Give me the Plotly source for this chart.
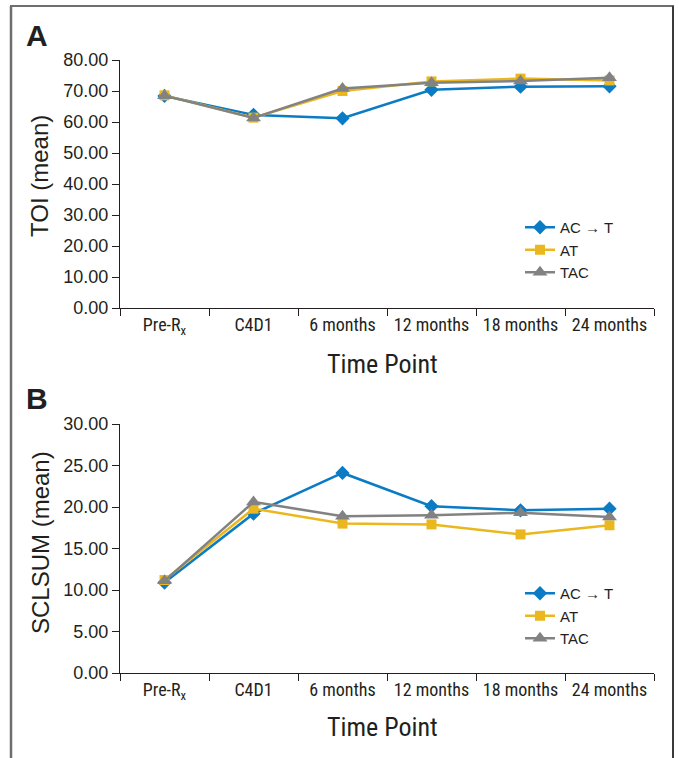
import plotly.graph_objects as go

time_points = ["Pre-R<sub>x</sub>", "C4D1", "6 months", "12 months", "18 months", "24 months"]
series_names = ["AC → T", "AT", "TAC"]

toi_act = [68.4, 62.3, 61.2, 70.4, 71.4, 71.5]
toi_at = [68.6, 61.4, 70.0, 73.1, 74.0, 73.4]
toi_tac = [68.5, 61.3, 70.8, 72.7, 73.2, 74.3]

scl_act = [10.9, 19.2, 24.1, 20.1, 19.6, 19.8]
scl_at = [11.2, 19.8, 18.0, 17.9, 16.7, 17.8]
scl_tac = [11.1, 20.6, 18.9, 19.0, 19.3, 18.8]

colors = ["#0a7bc4", "#eab81e", "#828282"]
symbols = ["diamond", "square", "triangle-up"]
msizes = [11, 10, 13]

W, H = 679, 758
fig = go.Figure()

panels = [
    ([toi_act, toi_at, toi_tac], "x", "y", "legend"),
    ([scl_act, scl_at, scl_tac], "x2", "y2", "legend2"),
]
for vals, xa, ya, lg in panels:
    for i, v in enumerate(vals):
        fig.add_trace(go.Scatter(
            x=time_points, y=v, name=series_names[i], mode="lines+markers",
            line=dict(color=colors[i], width=2.5),
            marker=dict(symbol=symbols[i], size=msizes[i], color=colors[i]),
            xaxis=xa, yaxis=ya, legend=lg, showlegend=True,
        ))

def px_x(p):
    return p / W

def px_y(p):
    return 1 - p / H

axis_color = "#231f20"
cond = "Liberation Sans Narrow, Arial Narrow, Roboto Condensed, Roboto, sans-serif"
tickfont_x = dict(family=cond, size=18, color="#231f20")
tickfont_y = dict(family="Liberation Sans, Arial, sans-serif", size=18, color="#231f20")

xcommon = dict(type="category", tickson="boundaries", ticks="outside", ticklen=7,
               tickcolor=axis_color, tickwidth=1.3, showline=True, linecolor=axis_color,
               linewidth=1.3, showgrid=False, tickfont=tickfont_x, zeroline=False,
               range=[-0.5, 5.5], tickangle=0, automargin=False)
ycommon = dict(ticks="outside", ticklen=7, tickcolor=axis_color, tickwidth=1.3,
               showline=True, linecolor=axis_color, linewidth=1.3, showgrid=False,
               tickformat=".2f", tickfont=tickfont_y, zeroline=False, automargin=False)

legfont = dict(family="Liberation Sans, Arial, sans-serif", size=15, color="#231f20")
fig.update_layout(
    width=W, height=H,
    margin=dict(l=0, r=0, t=0, b=0, autoexpand=False),
    paper_bgcolor="white", plot_bgcolor="white",
    xaxis=dict(domain=[px_x(120), px_x(654)], anchor="y", **xcommon),
    yaxis=dict(domain=[px_y(308), px_y(60)], anchor="x", range=[0, 80], dtick=10, **ycommon),
    xaxis2=dict(domain=[px_x(120), px_x(654)], anchor="y2", **xcommon),
    yaxis2=dict(domain=[px_y(673), px_y(424)], anchor="x2", range=[0, 30], dtick=5, **ycommon),
    legend=dict(x=px_x(520), y=px_y(211), xanchor="left", yanchor="top", font=legfont,
                bgcolor="rgba(0,0,0,0)", itemwidth=30, tracegroupgap=0),
    legend2=dict(x=px_x(520), y=px_y(577), xanchor="left", yanchor="top", font=legfont,
                 bgcolor="rgba(0,0,0,0)", itemwidth=30, tracegroupgap=0),
    showlegend=True,
)

ann_font_title = dict(family="Liberation Sans, Arial, sans-serif", size=24, color="#231f20")
ann_font_x = dict(family=cond, size=26, color="#231f20")
ann_font_panel = dict(family="Liberation Sans, Arial, sans-serif", size=30, color="#231f20")

annotations = [
    dict(text="<b>A</b>", x=px_x(37), y=px_y(35), font=ann_font_panel),
    dict(text="<b>B</b>", x=px_x(37), y=px_y(398), font=ann_font_panel),
    dict(text="TOI (mean)", x=px_x(40), y=px_y(176), textangle=-90, font=ann_font_title),
    dict(text="SCLSUM (mean)", x=px_x(40), y=px_y(543), textangle=-90, font=ann_font_title),
    dict(text="Time Point", x=px_x(382), y=px_y(364), font=ann_font_x),
    dict(text="Time Point", x=px_x(382), y=px_y(727), font=ann_font_x),
]
for a in annotations:
    a.update(xref="paper", yref="paper", showarrow=False, xanchor="center", yanchor="middle")
fig.update_layout(annotations=annotations)

fig.update_layout(shapes=[
    dict(type="line", xref="paper", yref="paper", x0=px_x(11), x1=px_x(11), y0=px_y(6), y1=px_y(760),
         line=dict(color="#6e6e6e", width=2.5)),
    dict(type="line", xref="paper", yref="paper", x0=px_x(10), x1=px_x(674), y0=px_y(6), y1=px_y(6),
         line=dict(color="#6e6e6e", width=2)),
    dict(type="line", xref="paper", yref="paper", x0=px_x(673), x1=px_x(673), y0=px_y(6), y1=px_y(760),
         line=dict(color="#3a3a3a", width=2)),
])

fig.write_html("out.html", config={"displayModeBar": False},
               post_script="document.body.style.margin='0';document.body.style.overflow='hidden';")
